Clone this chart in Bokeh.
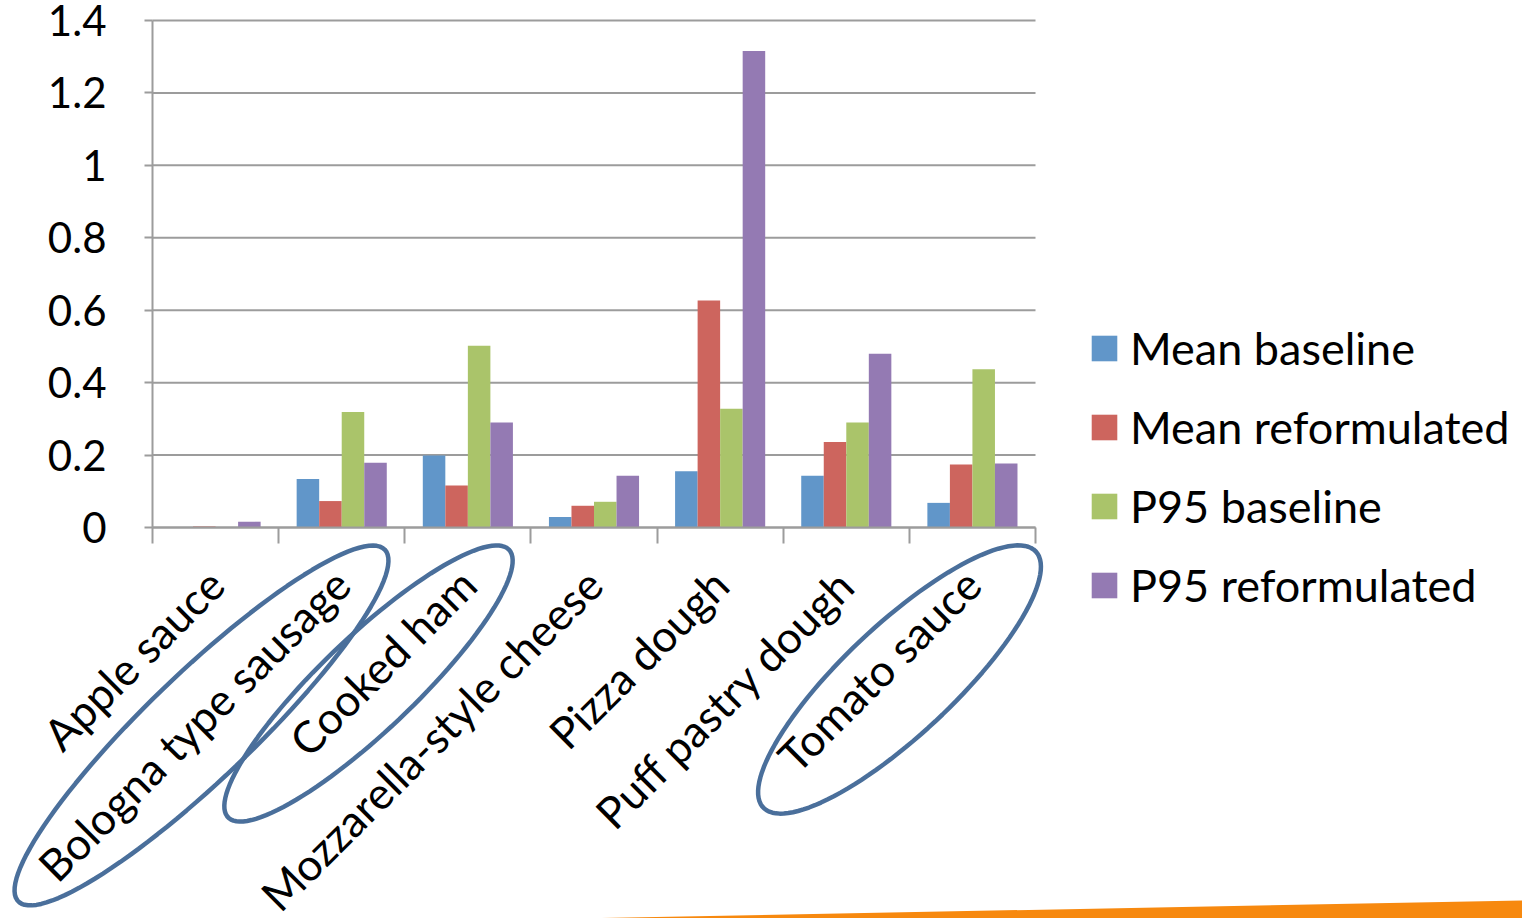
import numpy as np
from bokeh.plotting import figure
from bokeh.models import (ColumnDataSource, Range1d, LinearAxis,
                          FixedTicker, NumeralTickFormatter, Legend, LegendItem, PolyAnnotation)
from bokeh.transform import dodge
from bokeh.embed import file_html
from bokeh.resources import INLINE

categories = ["Apple sauce", "Bologna type sausage", "Cooked ham", "Mozzarella-style cheese",
              "Pizza dough", "Puff pastry dough", "Tomato sauce"]
mean_baseline = [0.0, 0.134, 0.199, 0.029, 0.155, 0.143, 0.068]
mean_reformulated = [0.003, 0.073, 0.116, 0.060, 0.627, 0.236, 0.174]
p95_baseline = [0.001, 0.319, 0.502, 0.071, 0.328, 0.290, 0.437]
p95_reformulated = [0.016, 0.179, 0.290, 0.143, 1.316, 0.480, 0.177]
series_names = ["Mean baseline", "Mean reformulated", "P95 baseline", "P95 reformulated"]
y_ticks = [0, 0.2, 0.4, 0.6, 0.8, 1.0, 1.2, 1.4]

colors = ["#6196c9", "#cd655e", "#aac46a", "#947ab3"]
FONT = "Lato"
GRAY = "#9c9c9c"

n = len(categories)
centers = [i + 0.5 for i in range(n)]
src = ColumnDataSource(dict(xc=centers, s0=mean_baseline, s1=mean_reformulated,
                            s2=p95_baseline, s3=p95_reformulated))

# canvas geometry: plot area spans x 152..1035 px, y 20..527 px of a 1522x918 canvas
W, H = 1522, 918
X0, X1, Y0, Y1 = 152, 1035, 527, 20
ymax = y_ticks[-1]
xs_per = (X1 - X0) / n
ys_per = (Y0 - Y1) / ymax
x_range = Range1d(-X0 / xs_per, n + (W - X1) / xs_per)
y_range = Range1d(-(H - Y0) / ys_per, ymax + Y1 / ys_per)

p = figure(width=W, height=H, x_range=x_range, y_range=y_range,
           output_backend="svg", toolbar_location=None,
           x_axis_location=None, y_axis_location=None,
           min_border=0, min_border_left=0, min_border_right=0,
           min_border_top=0, min_border_bottom=0)
p.outline_line_color = None
p.background_fill_color = "white"
p.border_fill_color = "white"
p.xgrid.visible = False
p.ygrid.visible = False

# horizontal gridlines across the plot area
p.segment(x0=0, x1=n, y0=y_ticks, y1=y_ticks, line_color=GRAY, line_width=2, level="underlay")

bw = 0.1786
renderers = []
for i, key in enumerate(["s0", "s1", "s2", "s3"]):
    r = p.vbar(x=dodge("xc", (i - 1.5) * bw), top=key, width=bw,
               bottom=0, source=src, fill_color=colors[i], line_color=None)
    renderers.append(r)

# y axis
ya = LinearAxis(fixed_location=0, bounds=(0, ymax), ticker=FixedTicker(ticks=y_ticks),
                formatter=NumeralTickFormatter(format="0.[0]"),
                major_label_text_font=FONT, major_label_text_font_size="42px",
                major_label_text_color="black", axis_line_color=GRAY, axis_line_width=2,
                major_tick_line_color=GRAY, major_tick_line_width=2,
                major_tick_out=8, major_tick_in=0, minor_tick_line_color=None,
                major_label_standoff=38)
p.add_layout(ya, "left")

# x axis: ticks at category boundaries, labels at category centres
tick_axis = LinearAxis(fixed_location=0, bounds=(0, n), ticker=FixedTicker(ticks=list(range(n + 1))),
                       major_label_text_color=None, major_label_standoff=0,
                       axis_line_color=GRAY, axis_line_width=2,
                       major_tick_line_color=GRAY, major_tick_line_width=2,
                       major_tick_out=16, major_tick_in=0, minor_tick_line_color=None)
p.add_layout(tick_axis, "below")
label_axis = LinearAxis(fixed_location=0, ticker=FixedTicker(ticks=centers),
                        major_label_overrides={c: name for c, name in zip(centers, categories)},
                        axis_line_color=None, major_tick_line_color=None,
                        minor_tick_line_color=None, major_label_orientation=np.pi / 4,
                        major_label_text_font=FONT, major_label_text_font_size="44px",
                        major_label_text_color="black", major_label_standoff=43)
p.add_layout(label_axis, "below")

legend = Legend(items=[LegendItem(label=nm, renderers=[r]) for nm, r in zip(series_names, renderers)],
                location=(1088, 306), orientation="vertical",
                label_text_font=FONT, label_text_font_size="45px", label_text_color="black",
                glyph_width=32, glyph_height=32, label_standoff=10, label_height=50, spacing=25,
                padding=0, margin=0, border_line_color=None, background_fill_alpha=0)
p.add_layout(legend, "center")

# hand-drawn highlight ellipses of the slide (canvas geometry)
def ellipse(cx, cy, a, b, deg, k=120):
    t = np.linspace(0, 2 * np.pi, k)
    th = np.radians(deg)
    xs = cx + a * np.cos(th) * np.cos(t) - b * np.sin(th) * np.sin(t)
    ys = cy - (a * np.sin(th) * np.cos(t) + b * np.cos(th) * np.sin(t))
    return list(xs), list(ys)

for (cx, cy, a, b, deg) in [(201, 725, 254, 53, 43.8), (368, 683, 194, 47, 43.6), (899, 679, 187, 55, 43.2)]:
    xs, ys = ellipse(cx, cy, a, b, deg)
    p.add_layout(PolyAnnotation(xs=xs, ys=ys, xs_units="canvas", ys_units="canvas",
                                fill_alpha=0, line_color="#4a6f9b", line_alpha=1, line_width=4.5))

p.add_layout(PolyAnnotation(xs=[575, 1522, 1522], ys=[918, 900, 918], xs_units="canvas",
                            ys_units="canvas", fill_color="#f7890f", fill_alpha=1,
                            line_color=None))

open("out.html", "w").write(file_html(p, INLINE))
